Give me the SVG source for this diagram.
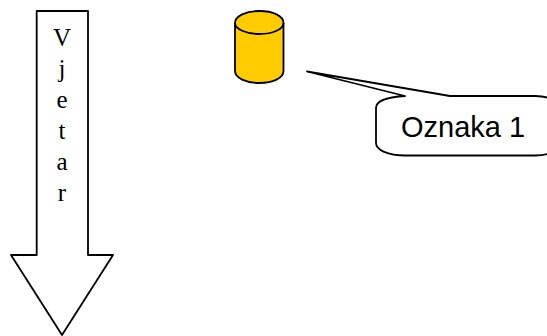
<svg xmlns="http://www.w3.org/2000/svg" width="547" height="336" viewBox="0 0 547 336">
<style>
.s{stroke:#000;stroke-width:1.8;stroke-linejoin:round;fill:#fff}
.c{fill:#ffcc00}
.t{font-family:"Liberation Serif",serif;font-size:25px;text-anchor:middle;fill:#000}
.l{font-family:"Liberation Sans",sans-serif;font-size:29px;fill:#000}
</style>
<g id="arrow">
<path class="s" d="M36.700 11H88V255H113L62 335L11 255H36.700Z"/>
<text class="t" x="62" y="46">V</text>
<text class="t" x="62" y="77">j</text>
<text class="t" x="62" y="108">e</text>
<text class="t" x="62" y="139">t</text>
<text class="t" x="62" y="170">a</text>
<text class="t" x="62" y="201">r</text>
</g>
<g id="cylinder">
<path class="s c" d="M235 23C235 16 246 11 259.500 11S283.500 16 283.500 23V71C283.500 78 273 83 259.500 83S235 78 235 71Z"/>
<path class="s" style="fill:none" d="M235 23C235 29 246 34 259.500 34S283.500 29 283.500 23"/>
</g>
<g id="callout">
<path class="s" d="M307 71.500L405 96C388 97 376 101 376 108V143C376 150 388 155.500 405 155.500H535C541 155.500 547 154.500 550 153V99C547 97 541 96 535 96H450Z"/>
<text class="l" x="401" y="137">Oznaka 1</text>
</g>
</svg>
